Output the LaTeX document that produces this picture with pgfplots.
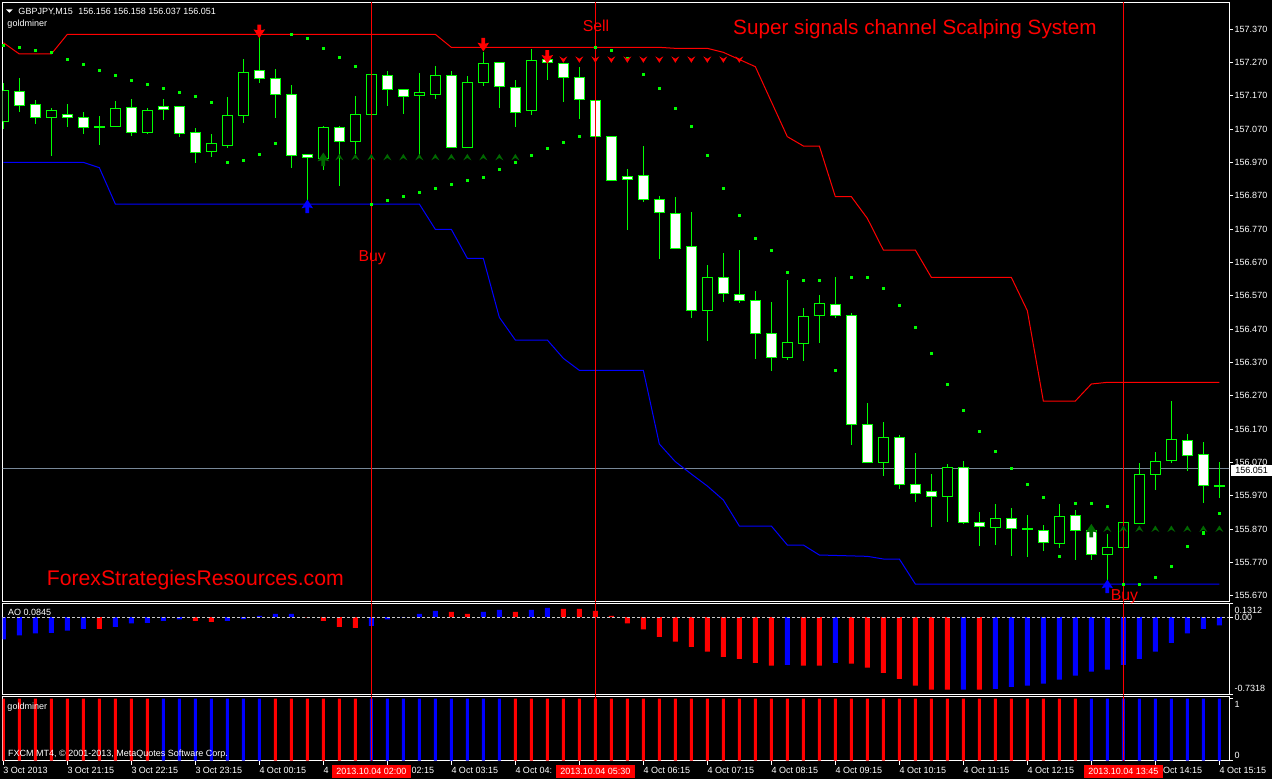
\documentclass[border=0pt]{standalone}
\usepackage{pgfplots}
\pgfplotsset{compat=1.18}
\usepackage{pgfplotstable}
\usepackage{fontspec}
\setmainfont{Liberation Sans}
\definecolor{mtlime}{RGB}{0,255,0}
\definecolor{dkgreen}{RGB}{0,105,0}
\definecolor{bidgray}{RGB}{120,136,153}
\newcommand{\mtf}{\fontsize{9bp}{10bp}\selectfont}

\pgfdeclareplotmark{bigdown}{%
 \pgfpathmoveto{\pgfpoint{-1.9bp}{6.8bp}}%
 \pgfpathlineto{\pgfpoint{1.9bp}{6.8bp}}%
 \pgfpathlineto{\pgfpoint{1.9bp}{1bp}}%
 \pgfpathlineto{\pgfpoint{5.8bp}{2bp}}%
 \pgfpathlineto{\pgfpoint{0bp}{-6.8bp}}%
 \pgfpathlineto{\pgfpoint{-5.8bp}{2bp}}%
 \pgfpathlineto{\pgfpoint{-1.9bp}{1bp}}%
 \pgfpathclose\pgfusepathqfill}
\pgfdeclareplotmark{bigup}{%
 \pgfpathmoveto{\pgfpoint{-1.9bp}{-6.8bp}}%
 \pgfpathlineto{\pgfpoint{1.9bp}{-6.8bp}}%
 \pgfpathlineto{\pgfpoint{1.9bp}{-1bp}}%
 \pgfpathlineto{\pgfpoint{5.8bp}{-2bp}}%
 \pgfpathlineto{\pgfpoint{0bp}{6.8bp}}%
 \pgfpathlineto{\pgfpoint{-5.8bp}{-2bp}}%
 \pgfpathlineto{\pgfpoint{-1.9bp}{-1bp}}%
 \pgfpathclose\pgfusepathqfill}
\pgfdeclareplotmark{smalldown}{%
 \pgfpathmoveto{\pgfpoint{-4bp}{3bp}}%
 \pgfpathlineto{\pgfpoint{0bp}{0.5bp}}%
 \pgfpathlineto{\pgfpoint{4bp}{3bp}}%
 \pgfpathlineto{\pgfpoint{0bp}{-3.5bp}}%
 \pgfpathclose\pgfusepathqfill}
\pgfdeclareplotmark{smallup}{%
 \pgfpathmoveto{\pgfpoint{-4bp}{-3bp}}%
 \pgfpathlineto{\pgfpoint{0bp}{-0.5bp}}%
 \pgfpathlineto{\pgfpoint{4bp}{-3bp}}%
 \pgfpathlineto{\pgfpoint{0bp}{3.5bp}}%
 \pgfpathclose\pgfusepathqfill}

\pgfplotstableread{
i O H L C
0 157.092 157.209 157.072 157.185
1 157.183 157.225 157.122 157.141
2 157.144 157.157 157.085 157.105
3 157.105 157.135 156.990 157.126
4 157.116 157.145 157.077 157.108
5 157.105 157.124 157.057 157.075
6 157.078 157.109 157.023 157.076
7 157.077 157.154 157.075 157.132
8 157.135 157.160 157.050 157.060
9 157.059 157.133 157.056 157.126
10 157.138 157.160 157.098 157.129
11 157.138 157.139 157.047 157.057
12 157.060 157.073 156.969 157.000
13 157.003 157.057 156.987 157.027
14 157.023 157.168 157.014 157.111
15 157.111 157.280 157.089 157.241
16 157.246 157.354 157.209 157.222
17 157.222 157.250 157.104 157.174
18 157.174 157.202 156.954 156.991
19 156.992 156.997 156.851 156.985
20 156.981 157.079 156.947 157.076
21 157.076 157.079 156.900 157.033
22 157.033 157.169 156.997 157.114
23 157.114 157.235 157.112 157.234
24 157.231 157.244 157.139 157.189
25 157.189 157.189 157.116 157.168
26 157.170 157.241 156.986 157.180
27 157.176 157.259 157.161 157.231
28 157.231 157.244 157.016 157.017
29 157.017 157.229 157.014 157.210
30 157.210 157.302 157.200 157.267
31 157.270 157.270 157.134 157.198
32 157.195 157.217 157.077 157.120
33 157.126 157.312 157.113 157.276
34 157.279 157.279 157.217 157.270
35 157.267 157.267 157.152 157.225
36 157.225 157.255 157.101 157.159
37 157.156 157.156 157.048 157.048
38 157.048 157.048 156.914 156.918
39 156.928 156.952 156.767 156.919
40 156.931 157.019 156.853 156.859
41 156.859 156.871 156.681 156.820
42 156.817 156.868 156.711 156.714
43 156.718 156.821 156.504 156.526
44 156.526 156.662 156.435 156.625
45 156.625 156.701 156.552 156.577
46 156.574 156.707 156.549 156.556
47 156.556 156.584 156.381 156.457
48 156.457 156.551 156.345 156.385
49 156.385 156.617 156.378 156.430
50 156.427 156.536 156.375 156.508
51 156.511 156.572 156.429 156.547
52 156.544 156.626 156.504 156.511
53 156.511 156.520 156.123 156.184
54 156.184 156.248 156.068 156.070
55 156.070 156.191 156.030 156.145
56 156.145 156.152 155.991 156.004
57 156.004 156.098 155.952 155.980
58 155.983 156.035 155.877 155.968
59 155.968 156.065 155.892 156.055
60 156.055 156.074 155.887 155.890
61 155.890 155.921 155.820 155.878
62 155.877 155.946 155.823 155.902
63 155.902 155.933 155.790 155.872
64 155.872 155.914 155.787 155.870
65 155.866 155.884 155.806 155.830
66 155.827 155.947 155.814 155.908
67 155.911 155.929 155.778 155.866
68 155.866 155.885 155.778 155.794
69 155.794 155.857 155.718 155.815
70 155.815 155.897 155.813 155.890
71 155.887 156.070 155.885 156.034
72 156.034 156.103 155.986 156.073
73 156.076 156.254 156.070 156.139
74 156.136 156.157 156.046 156.091
75 156.094 156.133 155.950 156.001
76 156.002 156.073 155.964 156.000
}\candles

\begin{document}
\begin{tikzpicture}
\fill[black] (0,0) rectangle (1272bp,-779bp);

% ---------------- main price panel ----------------
\begin{axis}[at={(2.7bp,-2.7bp)}, anchor=north west, scale only axis,
  width=1226.3bp, height=598.6bp,
  xmin=-0.0375, xmax=76.606, ymin=155.6531, ymax=157.4489,
  axis line style={white, line width=1bp},
  xtick=\empty,
  ytick={155.67,155.77,155.87,155.97,156.07,156.17,156.27,156.37,156.47,156.57,156.67,156.77,156.87,156.97,157.07,157.17,157.27,157.37},
  yticklabels={155.670,155.770,155.870,155.970,156.070,156.170,156.270,156.370,156.470,156.570,156.670,156.770,156.870,156.970,157.070,157.170,157.270,157.370},
  ytick pos=right, yticklabel pos=right,
  tick align=outside, major tick length=4bp,
  tick style={white, line width=0.8bp},
  yticklabel style={font=\mtf, text=white, inner sep=1.5bp},
  clip=true]
% bid line
\addplot[bidgray, line width=1bp] coordinates {(-1,156.051) (78,156.051)};
% candle wicks
\addplot[draw=none, mark=none, error bars/.cd, y dir=both, y explicit, error mark=none,
  error bar style={draw=mtlime, line width=1bp}]
  table[x=i, y expr={(\thisrow{H}+\thisrow{L})/2}, y error expr={(\thisrow{H}-\thisrow{L})/2}] {\candles};
% candle bodies (outline)
\addplot[draw=none, mark=none, error bars/.cd, y dir=both, y explicit, error mark=none,
  error bar style={draw=mtlime, line width=11bp}]
  table[x=i, y expr={(\thisrow{O}+\thisrow{C})/2}, y error expr={abs(\thisrow{O}-\thisrow{C})/2+0.0016}] {\candles};
% bearish bodies: white fill (other candles moved out of view)
\addplot[draw=none, mark=none, error bars/.cd, y dir=both, y explicit, error mark=none,
  error bar style={draw=white, line width=9bp}]
  table[x expr={(\thisrow{O}-\thisrow{C}>0.003) ? \thisrow{i} : -100}, y expr={(\thisrow{O}+\thisrow{C})/2}, y error expr={abs(\thisrow{O}-\thisrow{C})/2-0.0014}] {\candles};
% bullish bodies: black fill
\addplot[draw=none, mark=none, error bars/.cd, y dir=both, y explicit, error mark=none,
  error bar style={draw=black, line width=9bp}]
  table[x expr={(\thisrow{C}-\thisrow{O}>0.003) ? \thisrow{i} : -100}, y expr={(\thisrow{O}+\thisrow{C})/2}, y error expr={abs(\thisrow{O}-\thisrow{C})/2-0.0014}] {\candles};
% channel lines
\addplot[red, line width=1bp] coordinates {(0,157.329) (1,157.295) (3,157.295) (4,157.354) (27,157.354) (28,157.315) (41,157.315) (42,157.312) (44,157.312) (45,157.300) (47,157.257) (49,157.047) (50,157.019) (51,157.019) (52,156.867) (53,156.867) (54,156.802) (55,156.707) (57,156.707) (58,156.625) (63,156.625) (64,156.525) (65,156.254) (67,156.254) (68,156.305) (69,156.310) (76,156.310)};
\addplot[blue, line width=1bp] coordinates {(0,156.970) (5,156.970) (6,156.954) (7,156.845) (26,156.845) (27,156.769) (28,156.769) (29,156.682) (30,156.682) (31,156.505) (32,156.437) (34,156.437) (35,156.382) (36,156.346) (40,156.346) (41,156.125) (42,156.072) (43,156.035) (44,155.999) (45,155.957) (46,155.879) (48,155.879) (49,155.822) (50,155.822) (51,155.792) (54,155.788) (55,155.780) (56,155.780) (57,155.705) (76,155.705)};
% parabolic SAR dots
\addplot[only marks, mark=square*, mark size=1.3bp, mtlime] coordinates {(0,157.322) (1,157.315) (2,157.306) (3,157.300) (4,157.279) (5,157.264) (6,157.246) (7,157.231) (8,157.216) (9,157.204) (10,157.192) (11,157.180) (12,157.168) (13,157.150) (14,156.970) (15,156.976) (16,156.994) (17,157.027) (18,157.354) (19,157.342) (20,157.312) (21,157.285) (22,157.258) (23,156.844) (24,156.856) (25,156.868) (26,156.880) (27,156.892) (28,156.904) (29,156.916) (30,156.925) (31,156.949) (32,156.970) (33,156.991) (34,157.012) (35,157.030) (36,157.048) (37,157.315) (38,157.306) (39,157.282) (40,157.234) (41,157.192) (42,157.132) (43,157.078) (44,156.991) (45,156.892) (46,156.811) (47,156.742) (48,156.706) (49,156.640) (50,156.616) (51,156.616) (52,156.346) (53,156.625) (54,156.625) (55,156.592) (56,156.541) (57,156.475) (58,156.397) (59,156.304) (60,156.226) (61,156.163) (62,156.103) (63,156.052) (64,156.004) (65,155.965) (66,155.788) (67,155.947) (68,155.947) (69,155.938) (70,155.704) (71,155.704) (72,155.725) (73,155.758) (74,155.818) (75,155.859) (76,155.917)};
% signal arrows
\addplot[only marks, mark=smalldown, red] coordinates {(35,157.279) (36,157.279) (37,157.279) (38,157.279) (39,157.279) (40,157.279) (41,157.279) (42,157.279) (43,157.279) (44,157.279) (45,157.279) (46,157.279)};
\addplot[only marks, mark=smallup, dkgreen] coordinates {(21,156.985) (22,156.985) (23,156.985) (24,156.985) (25,156.985) (26,156.985) (27,156.985) (28,156.985) (29,156.985) (30,156.985) (31,156.985) (32,156.985) (69,155.870) (70,155.870) (71,155.870) (72,155.870) (73,155.870) (74,155.870) (75,155.870) (76,155.870)};
\addplot[only marks, mark=bigdown, red] coordinates {(16,157.363) (30,157.323) (34,157.286)};
\addplot[only marks, mark=bigup, blue] coordinates {(19,156.838) (69,155.698)};
\addplot[only marks, mark=bigup, dkgreen] coordinates {(20,156.979) (68,155.865)};
% vertical lines
\addplot[red, line width=1bp] coordinates {(23,155.5) (23,157.6)};
\addplot[red, line width=1bp] coordinates {(37,155.5) (37,157.6)};
\addplot[red, line width=1bp] coordinates {(70,155.5) (70,157.6)};
\end{axis}

% ---------------- AO panel ----------------
\begin{axis}[at={(2.7bp,-603.3bp)}, anchor=north west, scale only axis,
  width=1226.3bp, height=91bp,
  xmin=-0.0375, xmax=76.606, ymin=-0.7318, ymax=0.1312,
  axis line style={white, line width=1bp},
  xtick=\empty,
  ytick={-0.7318,0,0.1312},
  yticklabels={\raisebox{6.3bp}[\height][\depth]{-0.7318},0.00,\raisebox{-6.7bp}[\height][\depth]{0.1312}},
  ytick pos=right, yticklabel pos=right,
  tick align=outside, major tick length=4bp,
  tick style={white, line width=0.8bp},
  yticklabel style={font=\mtf, text=white, inner sep=1.5bp},
  clip=true]
\addplot[ybar, bar width=5bp, bar shift=0pt, fill=blue, draw=none] coordinates {(0,-0.212) (1,-0.174) (2,-0.155) (3,-0.149) (4,-0.127) (5,-0.111) (7,-0.092) (8,-0.060) (9,-0.054) (10,-0.035) (11,-0.022) (14,-0.035) (15,-0.019) (16,0.013) (17,0.032) (18,0.032) (23,-0.082) (24,-0.022) (25,-0.003) (26,0.032) (27,0.060) (30,0.050) (31,0.069) (33,0.069) (34,0.088) (49,-0.453) (52,-0.434) (60,-0.687) (62,-0.680) (63,-0.661) (64,-0.649) (65,-0.630) (66,-0.592) (67,-0.554) (68,-0.516) (69,-0.497) (70,-0.453) (71,-0.396) (72,-0.326) (73,-0.244) (74,-0.155) (75,-0.111) (76,-0.079)};
\addplot[ybar, bar width=5bp, bar shift=0pt, fill=red, draw=none] coordinates {(6,-0.111) (12,-0.035) (13,-0.044) (19,-0.003) (20,-0.035) (21,-0.092) (22,-0.101) (28,0.050) (29,0.031) (32,0.050) (35,0.079) (36,0.079) (37,0.060) (38,0.012) (39,-0.060) (40,-0.117) (41,-0.187) (42,-0.231) (43,-0.282) (44,-0.326) (45,-0.377) (46,-0.396) (47,-0.434) (48,-0.459) (50,-0.459) (51,-0.459) (53,-0.440) (54,-0.478) (55,-0.528) (56,-0.585) (57,-0.649) (58,-0.687) (59,-0.687) (61,-0.687)};
\addplot[white!80!black, line width=1bp, dash pattern=on 3bp off 2bp] coordinates {(-1,0) (78,0)};
\addplot[red, line width=1bp] coordinates {(23,-1) (23,1)};
\addplot[red, line width=1bp] coordinates {(37,-1) (37,1)};
\addplot[red, line width=1bp] coordinates {(70,-1) (70,1)};
\end{axis}

% ---------------- goldminer panel ----------------
\begin{axis}[at={(2.7bp,-696.7bp)}, anchor=north west, scale only axis,
  width=1226.3bp, height=64bp,
  xmin=-0.0375, xmax=76.606, ymin=0, ymax=1.029,
  axis line style={white, line width=1bp},
  xtick={0,4,...,76},
  xticklabels={3 Oct 2013,3 Oct 21:15,3 Oct 22:15,3 Oct 23:15,4 Oct 00:15,4,\phantom{4 Oct }02:15,4 Oct 03:15,4 Oct 04:,{},4 Oct 06:15,4 Oct 07:15,4 Oct 08:15,4 Oct 09:15,4 Oct 10:15,4 Oct 11:15,4 Oct 12:15,{},\phantom{4 }Oct 14:15,4 Oct 15:15},
  xtick pos=left, xticklabel pos=left,
  ytick={0,1},
  yticklabels={\raisebox{5.7bp}[\height][\depth]{0},\raisebox{-5.5bp}[\height][\depth]{1}},
  ytick pos=right, yticklabel pos=right,
  tick align=outside, major tick length=4bp,
  tick style={white, line width=0.8bp},
  yticklabel style={font=\mtf, text=white, inner sep=1.5bp},
  xticklabel style={font=\mtf, text=white, anchor=north west, inner sep=0pt, yshift=-2bp},
  clip=true]
\addplot[ybar, bar width=3bp, bar shift=0pt, fill=red, draw=none] coordinates {(0,1) (1,1) (2,1) (3,1) (4,1) (5,1) (6,1) (7,1) (8,1) (9,1) (17,1) (18,1) (19,1) (20,1) (21,1) (22,1) (32,1) (33,1) (34,1) (35,1) (36,1) (37,1) (38,1) (39,1) (40,1) (41,1) (42,1) (43,1) (44,1) (45,1) (46,1) (47,1) (48,1) (49,1) (50,1) (51,1) (52,1) (53,1) (54,1) (55,1) (56,1) (57,1) (58,1) (59,1) (60,1) (61,1) (62,1) (63,1) (64,1) (65,1) (66,1) (67,1)};
\addplot[ybar, bar width=3bp, bar shift=0pt, fill=blue, draw=none] coordinates {(10,1) (11,1) (12,1) (13,1) (14,1) (15,1) (16,1) (23,1) (24,1) (25,1) (26,1) (27,1) (28,1) (29,1) (30,1) (31,1) (68,1) (69,1) (70,1) (71,1) (72,1) (73,1) (74,1) (75,1) (76,1)};
\addplot[red, line width=1bp] coordinates {(23,-1) (23,2)};
\addplot[red, line width=1bp] coordinates {(37,-1) (37,2)};
\addplot[red, line width=1bp] coordinates {(70,-1) (70,2)};
\end{axis}

% ---------------- texts ----------------
\fill[white] (6bp,-9.3bp) -- (12.7bp,-9.3bp) -- (9.35bp,-12.7bp) -- cycle;
\node[anchor=base west, text=white, font=\mtf, inner sep=0pt] at (18.3bp,-14bp) {GBPJPY,M15\hspace{3bp} 156.156 156.158 156.037 156.051};
\node[anchor=base west, text=white, font=\mtf, inner sep=0pt] at (7.3bp,-26.5bp) {goldminer};
\node[anchor=base west, text=white, font=\mtf, inner sep=0pt] at (8bp,-615.5bp) {AO 0.0845};
\node[anchor=base west, text=white, font=\mtf, inner sep=0pt] at (7.3bp,-709.8bp) {goldminer};
\node[anchor=base west, text=white, font=\mtf, inner sep=0pt] at (8bp,-756.5bp) {FXCM MT4, © 2001-2013, MetaQuotes Software Corp.};
\node[anchor=base west, text=red, font=\fontsize{20.7bp}{24bp}\selectfont, inner sep=0pt] at (733bp,-34.3bp) {Super signals channel Scalping System};
\node[anchor=base west, text=red, font=\fontsize{21.2bp}{24bp}\selectfont, inner sep=0pt] at (46.7bp,-585.7bp) {ForexStrategiesResources.com};
\node[anchor=base west, text=red, font=\fontsize{15.8bp}{18bp}\selectfont, inner sep=0pt] at (582.7bp,-31bp) {Sell};
\node[anchor=base west, text=red, font=\fontsize{15.8bp}{18bp}\selectfont, inner sep=0pt] at (358.3bp,-261bp) {Buy};
\node[anchor=base west, text=red, font=\fontsize{15.8bp}{18bp}\selectfont, inner sep=0pt] at (1110.7bp,-600bp) {Buy};
\node[anchor=west, fill=white, text=black, font=\mtf, minimum width=41.3bp, minimum height=11bp, inner sep=0pt] at (1230.7bp,-470bp) {156.051};
\node[fill=red, text=white, font=\mtf, minimum width=79bp, minimum height=13bp, inner sep=0pt] at (371.3bp,-771bp) {2013.10.04 02:00};
\node[fill=red, text=white, font=\mtf, minimum width=79bp, minimum height=13bp, inner sep=0pt] at (595.3bp,-771bp) {2013.10.04 05:30};
\node[fill=red, text=white, font=\mtf, minimum width=79bp, minimum height=13bp, inner sep=0pt] at (1123.3bp,-771bp) {2013.10.04 13:45};
\pgfresetboundingbox
\useasboundingbox (0,0) rectangle (1272bp,-779bp);
\end{tikzpicture}
\end{document}
